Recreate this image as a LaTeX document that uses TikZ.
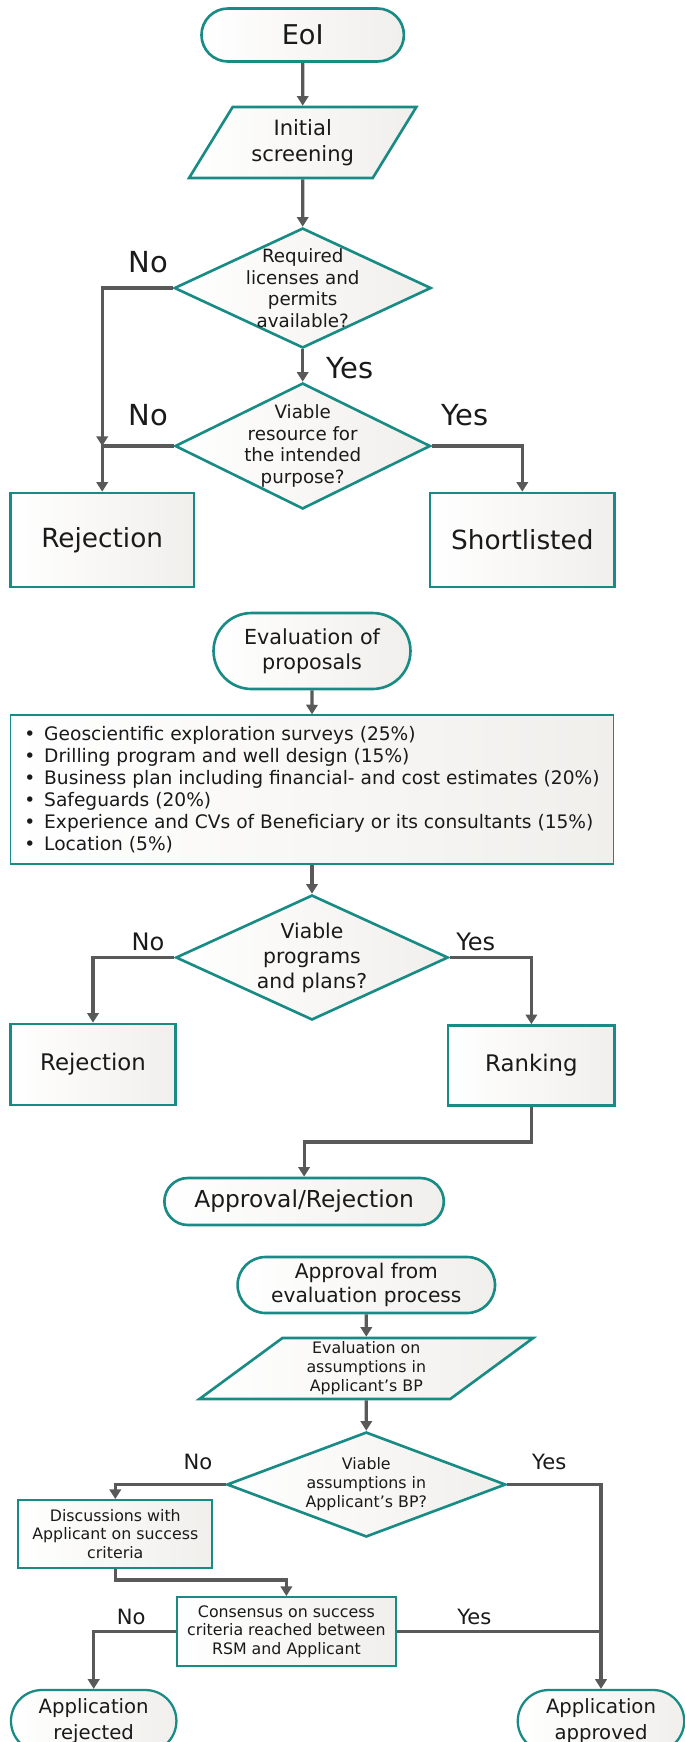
\documentclass[tikz,border=0pt]{standalone}
\usepackage{fontspec}
\setmainfont{DejaVu Sans}
\usetikzlibrary{shapes.geometric,shapes.misc,arrows.meta}

\definecolor{tealline}{RGB}{24,139,133}
\definecolor{arrgray}{RGB}{89,89,89}
\definecolor{boxfill}{RGB}{241,239,236}
\definecolor{inkc}{RGB}{26,26,26}

\newcommand{\fsz}[2]{\fontsize{#1}{#2}\selectfont}

\tikzset{
	shadedbox/.style={left color=white, right color=boxfill, draw=tealline, line width=1.5pt, text=inkc, align=center, inner sep=1pt},
	term/.style={shadedbox, rounded rectangle},
	inbox/.style={shadedbox, trapezium, trapezium stretches=true},
	decide/.style={shadedbox, diamond},
	proc/.style={shadedbox, rectangle},
	arr/.style={draw=arrgray, line width=1.8pt, -{Triangle[length=5.5pt,width=6.5pt]}},
	conn/.style={draw=arrgray, line width=1.8pt},
	yn/.style={text=inkc, inner sep=0pt},
}

\begin{document}
\begin{tikzpicture}[x=0.02cm, y=-0.02cm]
	\useasboundingbox (0,0) rectangle (685,1742);
	\clip (0,0) rectangle (685,1742);

	% screening
	\node[term, minimum width=4.12cm, minimum height=1.06cm, font=\fsz{15.5pt}{18pt}] (eoi) at (302.7,35) {EoI};
	\node[inbox, trapezium left angle=56.5, trapezium right angle=123.5, minimum width=4.59cm, minimum height=1.42cm, font=\fsz{12pt}{14.8pt}] (scr) at (302.7,142.5) {Initial\\screening};
	\node[decide, minimum width=5.14cm, minimum height=2.4cm, label={[font=\fsz{10.4pt}{12.3pt}, align=center, text=inkc]center:Required\\licenses and\\permits\\available?}] (lic) at (302.7,288) {};
	\node[decide, minimum width=5.11cm, minimum height=2.52cm, label={[font=\fsz{10.4pt}{12.3pt}, align=center, text=inkc]center:Viable\\resource for\\the intended\\purpose?}] (via) at (302.7,446) {};
	\node[proc, minimum width=3.67cm, minimum height=1.88cm, font=\fsz{15pt}{18pt}] (rej1) at (102.2,540) {Rejection};
	\node[proc, minimum width=3.7cm, minimum height=1.88cm, font=\fsz{15pt}{18pt}] (short) at (522.3,540) {Shortlisted};

	\node[yn, font=\fsz{16.5pt}{18pt}] (no1) at (148.1,262) {No};
	\node[yn, font=\fsz{16.5pt}{18pt}] (yes1) at (349.9,368) {Yes};
	\node[yn, font=\fsz{16.5pt}{18pt}] (no2) at (148.1,415) {No};
	\node[yn, font=\fsz{16.5pt}{18pt}] (yes2) at (465.3,415) {Yes};

	\draw[arr] (eoi) -- (scr);
	\draw[arr] (scr) -- (lic);
	\draw[arr] (lic) -- (via);
	\coordinate (j1) at (rej1.north |- via.west);
	\draw[arr] (lic.west) -| (j1);
	\draw[arr] (via.west) -| (rej1.north);
	\draw[arr] (via.east) -| (short.north);

	% evaluation
	\node[term, minimum width=4.01cm, minimum height=1.52cm, font=\fsz{11.8pt}{14.2pt}] (evp) at (312,651) {Evaluation of\\proposals};
	\node[proc, line width=0.7pt, minimum width=12.06cm, minimum height=2.98cm, align=left, font=\fsz{10.6pt}{12.5pt}] (crit) at (312,789.5) {%
		\textbullet\hspace{5pt}Geoscientific exploration surveys (25\%)\\
		\textbullet\hspace{5pt}Drilling program and well design (15\%)\\
		\textbullet\hspace{5pt}Business plan including financial- and cost estimates (20\%)\\
		\textbullet\hspace{5pt}Safeguards (20\%)\\
		\textbullet\hspace{5pt}Experience and CVs of Beneficiary or its consultants (15\%)\\
		\textbullet\hspace{5pt}Location (5\%)};
	\node[decide, minimum width=5.45cm, minimum height=2.5cm, label={[font=\fsz{11.6pt}{14.2pt}, align=center, text=inkc]center:Viable\\programs\\and plans?}] (prog) at (312,957.5) {};
	\node[proc, minimum width=3.3cm, minimum height=1.62cm, font=\fsz{13pt}{15pt}] (rej2) at (93,1064.5) {Rejection};
	\node[proc, minimum width=3.33cm, minimum height=1.6cm, font=\fsz{13pt}{15pt}] (rank) at (531.4,1065.5) {Ranking};
	\node[term, minimum width=5.66cm, minimum height=0.94cm, font=\fsz{13.3pt}{15pt}] (arj) at (304.1,1201.5) {Approval/Rejection};

	\node[yn, font=\fsz{13.7pt}{16pt}] (no3) at (148.1,942) {No};
	\node[yn, font=\fsz{13.7pt}{16pt}] (yes3) at (475.7,942) {Yes};

	\draw[arr] (evp) -- (crit);
	\draw[arr] (crit) -- (prog);
	\draw[arr] (prog.west) -| (rej2.north);
	\draw[arr] (prog.east) -| (rank.north);
	\coordinate (k1) at (531.4,1142);
	\draw[arr] (rank.south) -- (k1) -| (arj.north);

	% business plan check
	\node[term, minimum width=5.22cm, minimum height=1.12cm, font=\fsz{11.5pt}{14pt}] (afe) at (366.3,1285) {Approval from\\evaluation process};
	\node[inbox, trapezium left angle=43, trapezium right angle=137, minimum width=6.68cm, minimum height=1.22cm, font=\fsz{9pt}{10.8pt}] (ass) at (366.3,1368.5) {Evaluation on\\assumptions in\\Applicant's BP};
	\node[decide, minimum width=5.58cm, minimum height=2.1cm, label={[font=\fsz{9pt}{10.8pt}, align=center, text=inkc]center:Viable\\assumptions in\\Applicant's BP?}] (vas) at (366.3,1484.5) {};
	\node[proc, line width=1.1pt, minimum width=3.88cm, minimum height=1.36cm, font=\fsz{9pt}{10.6pt}] (disc) at (115.3,1534) {Discussions with\\Applicant on success\\criteria};
	\node[proc, line width=1.1pt, minimum width=4.38cm, minimum height=1.38cm, font=\fsz{9pt}{10.6pt}] (cons) at (286.4,1631.5) {Consensus on success\\criteria reached between\\RSM and Applicant};
	\node[term, line width=1.3pt, minimum width=3.38cm, minimum height=1.24cm, font=\fsz{11.2pt}{14.6pt}] (arejd) at (93.7,1721) {Application\\rejected};
	\node[term, line width=1.3pt, minimum width=3.4cm, minimum height=1.24cm, font=\fsz{11.2pt}{14.6pt}] (aappr) at (601,1721) {Application\\approved};

	\node[yn, font=\fsz{12pt}{14pt}] (no4) at (197.9,1462) {No};
	\node[yn, font=\fsz{12pt}{14pt}] (yes4) at (549.2,1462) {Yes};
	\node[yn, font=\fsz{12pt}{14pt}] (no5) at (131.1,1617) {No};
	\node[yn, font=\fsz{12pt}{14pt}] (yes5) at (474.4,1617) {Yes};

	\draw[arr] (afe) -- (ass);
	\draw[arr] (ass) -- (vas);
	\draw[arr] (vas.west) -| (disc.north);
	\coordinate (k2) at (115.3,1580);
	\draw[arr] (disc.south) -- (k2) -| (cons.north);
	\draw[arr] (cons.west) -| (arejd.north);
	\draw[arr] (vas.east) -| (aappr.north);
	\coordinate (j2) at (aappr.north |- cons.east);
	\draw[conn] (cons.east) -- (j2);

\end{tikzpicture}
\end{document}
